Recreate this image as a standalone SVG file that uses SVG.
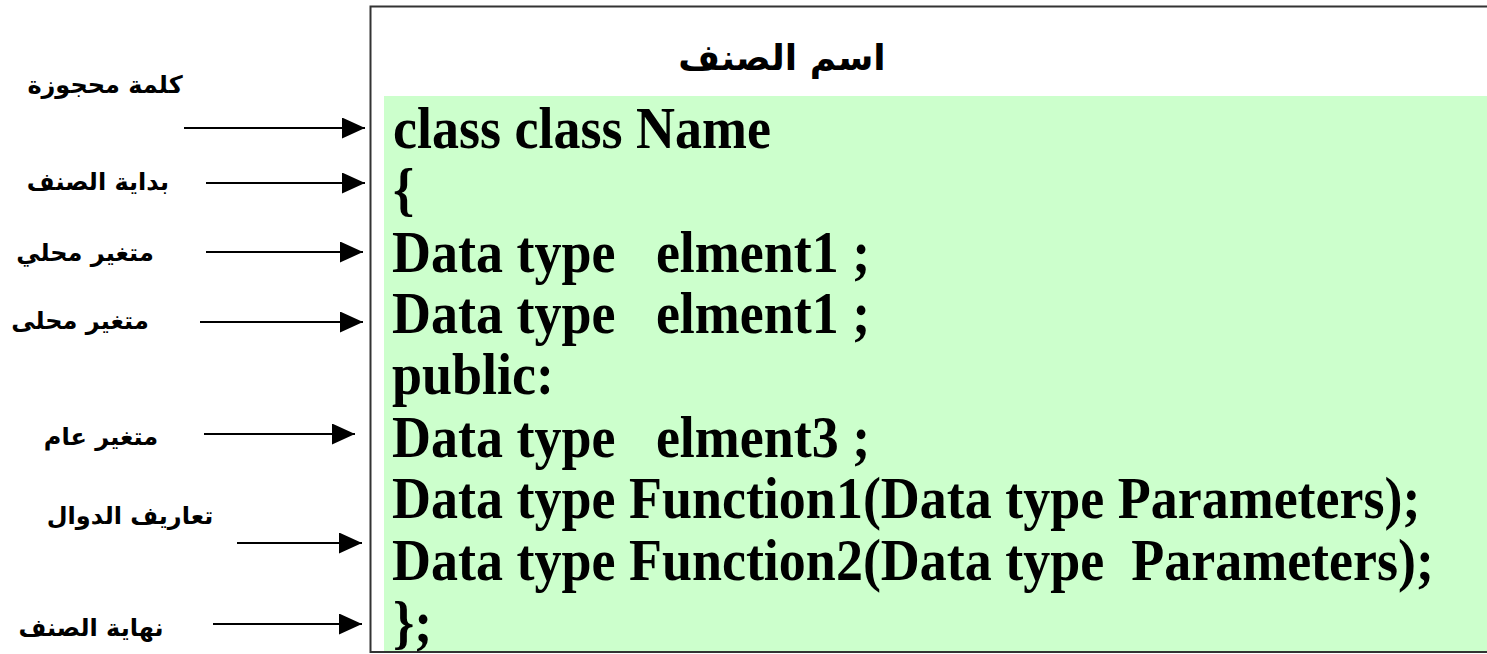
<svg xmlns="http://www.w3.org/2000/svg" width="1487" height="654" viewBox="0 0 1487 654">
<style>
.code{font-family:"Liberation Serif","Times New Roman",serif;font-weight:bold;font-size:54px;fill:#000}
.lbl{font-family:"DejaVu Sans","Noto Sans",sans-serif;font-weight:bold;font-size:24px;fill:#000;text-anchor:middle}
.title{font-family:"DejaVu Sans","Noto Sans",sans-serif;font-weight:bold;font-size:36px;fill:#000;text-anchor:middle}
.conn{stroke:#000;stroke-width:2;fill:none;marker-end:url(#arr)}
</style>
<defs>
<marker id="arr" viewBox="0 0 23 21" refX="23" refY="10.5" markerWidth="23" markerHeight="21" markerUnits="userSpaceOnUse" orient="auto">
<path d="M0,0 L23,10.5 L0,21 Z" fill="#000"/>
</marker>
</defs>
<rect width="1487" height="654" fill="#fff"/>
<g id="class-box">
<rect x="384" y="96" width="1103" height="555" fill="#CCFFCC"/>
<path d="M1487,6.5 H370.5 V652 H1487" fill="none" stroke="#333" stroke-width="2"/>
<text class="title" x="782" y="70">اسم الصنف</text>
<text class="code" transform="translate(393,148) scale(1,1.1)">class class Name</text>
<text class="code" transform="translate(393,209) scale(1,1.1)">{</text>
<text class="code" transform="translate(392,272) scale(1,1.1)" xml:space="preserve">Data type   elment1 ;</text>
<text class="code" transform="translate(392,333) scale(1,1.1)" xml:space="preserve">Data type   elment1 ;</text>
<text class="code" transform="translate(392,394) scale(1,1.1)">public:</text>
<text class="code" transform="translate(392,457) scale(1,1.1)" xml:space="preserve">Data type   elment3 ;</text>
<text class="code" transform="translate(392,518) scale(1,1.1)">Data type Function1(Data type Parameters);</text>
<text class="code" transform="translate(392,580) scale(1,1.1)" xml:space="preserve">Data type Function2(Data type  Parameters);</text>
<text class="code" transform="translate(393,642) scale(1,1.1)">};</text>
</g>
<g id="label-reserved"><text class="lbl" x="105" y="93">كلمة محجوزة</text></g>
<g id="label-begin"><text class="lbl" x="98" y="190">بداية الصنف</text></g>
<g id="label-local1"><text class="lbl" x="85" y="261">متغير محلي</text></g>
<g id="label-local2"><text class="lbl" x="80" y="329">متغير محلى</text></g>
<g id="label-public"><text class="lbl" x="101" y="445">متغير عام</text></g>
<g id="label-functions"><text class="lbl" x="130" y="524">تعاريف الدوال</text></g>
<g id="label-end"><text class="lbl" x="91" y="636">نهاية الصنف</text></g>
<g id="connectors">
<line class="conn" x1="184" y1="128" x2="365" y2="128"/>
<line class="conn" x1="206" y1="183" x2="365" y2="183"/>
<line class="conn" x1="206" y1="252" x2="363" y2="252"/>
<line class="conn" x1="200" y1="322" x2="363" y2="322"/>
<line class="conn" x1="204" y1="434" x2="355" y2="434"/>
<line class="conn" x1="237" y1="543" x2="362" y2="543"/>
<line class="conn" x1="213" y1="624" x2="362" y2="624"/>
</g>
</svg>
